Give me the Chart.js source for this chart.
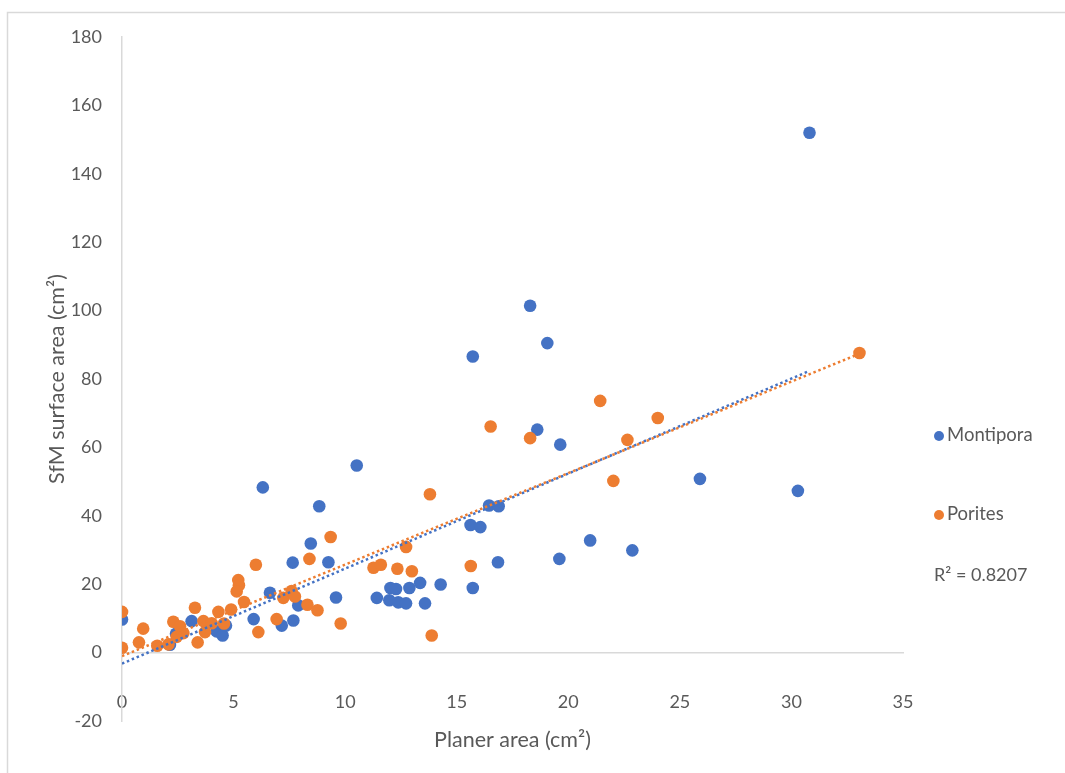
<!DOCTYPE html>
<html>
<head>
<meta charset="utf-8">
<script src="https://cdn.jsdelivr.net/npm/chart.js@4.4.0/dist/chart.umd.min.js"></script>
<style>
  html, body { margin: 0; padding: 0; background: #ffffff; }
  canvas { display: block; }
</style>
</head>
<body>
<canvas id="chart" width="1065" height="773"></canvas>
<script>
// Planar area (cm²) vs SfM surface area (cm²) for two coral genera
const seriesNames = ['Montipora', 'Porites'];

const montiporaX = [0, 2.15, 2.42, 3.12, 4.24, 4.51, 4.66, 5.9, 6.31, 6.63, 7.16, 7.68, 7.65, 7.9,
  8.46, 8.84, 9.25, 9.59, 10.52, 11.42, 11.98, 12.03, 12.28, 12.38, 12.73, 12.88, 13.36, 13.58,
  14.28, 15.62, 15.72, 15.72, 16.06, 16.45, 16.88, 16.85, 18.29, 18.61, 19.06, 19.64, 19.6,
  20.98, 22.87, 25.9, 30.29, 30.81];
const montiporaY = [9.7, 2.3, 5.5, 9.2, 6.2, 5.0, 7.9, 9.8, 48.3, 17.5, 7.9, 9.4, 26.3, 13.8,
  31.9, 42.8, 26.4, 16.1, 54.7, 16.0, 15.3, 18.9, 18.6, 14.7, 14.4, 18.9, 20.4, 14.4,
  19.9, 37.3, 86.6, 18.9, 36.7, 43.0, 42.8, 26.4, 101.4, 65.2, 90.5, 60.8, 27.4,
  32.8, 29.9, 50.8, 47.3, 152.0];

const poritesX = [0, 0, 0.76, 0.95, 1.58, 2.08, 2.3, 2.6, 2.75, 2.45, 3.27, 3.39, 3.65, 3.72,
  4.02, 4.32, 4.57, 4.89, 5.21, 5.24, 5.14, 5.47, 6.0, 6.11, 6.93, 7.23, 7.6, 7.75, 8.31, 8.4,
  8.76, 9.35, 9.8, 11.27, 11.6, 12.34, 12.73, 12.99, 13.8, 13.88, 15.63, 16.52, 18.29, 21.43,
  22.02, 22.65, 24.01, 33.05];
const poritesY = [11.9, 1.4, 3.0, 7.0, 2.0, 2.4, 9.0, 7.7, 5.7, 4.6, 13.1, 3.0, 9.2, 6.0,
  8.6, 11.9, 8.5, 12.6, 21.2, 19.7, 17.9, 14.8, 25.7, 6.0, 9.8, 16.0, 18.0, 16.4, 14.0, 27.4,
  12.4, 33.8, 8.5, 24.8, 25.7, 24.5, 30.9, 23.8, 46.3, 5.0, 25.3, 66.1, 62.7, 73.6,
  50.2, 62.2, 68.6, 87.6];

const xAxisRange = { min: 0, max: 35, step: 5 };
const yAxisRange = { min: -20, max: 180, step: 20 };
const rSquaredLabel = 'R² = 0.8207';

const BLUE = '#4472C4';
const ORANGE = '#ED7D31';
const TEXT = '#595959';
const LINE = '#d9d9d9';
const FONT = 'Lato, "Open Sans", sans-serif';

function toPoints(xs, ys) {
  return xs.map((x, i) => ({ x: x, y: ys[i] }));
}

// Ordinary least-squares line across the x extent of a series
function linearTrend(xs, ys) {
  const n = xs.length;
  const mx = xs.reduce((a, b) => a + b, 0) / n;
  const my = ys.reduce((a, b) => a + b, 0) / n;
  let sxy = 0, sxx = 0;
  for (let i = 0; i < n; i++) {
    sxy += (xs[i] - mx) * (ys[i] - my);
    sxx += (xs[i] - mx) * (xs[i] - mx);
  }
  const slope = sxy / sxx;
  const icpt = my - slope * mx;
  const x0 = Math.min(...xs), x1 = Math.max(...xs);
  return [{ x: x0, y: icpt + slope * x0 }, { x: x1, y: icpt + slope * x1 }];
}

// Outer frame of the chart object
const framePlugin = {
  id: 'frame',
  beforeDraw(chart) {
    const ctx = chart.ctx;
    ctx.save();
    ctx.fillStyle = '#ffffff';
    ctx.fillRect(0, 0, chart.width, chart.height);
    ctx.strokeStyle = LINE;
    ctx.lineWidth = 1.5;
    ctx.strokeRect(7.5, 12.5, chart.width + 20, chart.height + 20);
    ctx.restore();
  }
};

// Legend entries stacked at the right, plus the R² note
const sideLegendPlugin = {
  id: 'sideLegend',
  afterDraw(chart) {
    const ctx = chart.ctx;
    const rows = [435, 514];
    ctx.save();
    ctx.font = '18.5px ' + FONT;
    ctx.textBaseline = 'middle';
    ctx.textAlign = 'left';
    chart.data.datasets.forEach((ds) => {
      if (ds.legendRow === undefined) return;
      const y = rows[ds.legendRow];
      ctx.fillStyle = ds.backgroundColor;
      ctx.beginPath();
      ctx.arc(939, y + 1, 5, 0, Math.PI * 2);
      ctx.fill();
      ctx.fillStyle = TEXT;
      ctx.fillText(ds.label, 947, y);
    });
    ctx.font = '18px ' + FONT;
    ctx.fillText(rSquaredLabel, 934, 575);
    ctx.restore();
  }
};

new Chart(document.getElementById('chart'), {
  type: 'scatter',
  data: {
    datasets: [
      {
        label: 'Linear (' + seriesNames[1] + ')',
        data: linearTrend(poritesX, poritesY),
        showLine: true,
        borderColor: ORANGE,
        borderWidth: 2.5,
        borderDash: [2.5, 2.8],
        pointRadius: 0,
        order: 0
      },
      {
        label: 'Linear (' + seriesNames[0] + ')',
        data: linearTrend(montiporaX, montiporaY),
        showLine: true,
        borderColor: BLUE,
        borderWidth: 2.5,
        borderDash: [2.5, 2.8],
        pointRadius: 0,
        order: 1
      },
      {
        label: seriesNames[1],
        legendRow: 1,
        data: toPoints(poritesX, poritesY),
        backgroundColor: ORANGE,
        borderColor: ORANGE,
        borderWidth: 0,
        pointRadius: 6.3,
        order: 2
      },
      {
        label: seriesNames[0],
        legendRow: 0,
        data: toPoints(montiporaX, montiporaY),
        backgroundColor: BLUE,
        borderColor: BLUE,
        borderWidth: 0,
        pointRadius: 6.3,
        order: 3
      }
    ]
  },
  options: {
    responsive: false,
    animation: false,
    devicePixelRatio: 1,
    layout: { padding: { left: 0, right: 162, top: 37, bottom: 52 } },
    plugins: {
      legend: { display: false },
      tooltip: { enabled: false }
    },
    scales: {
      x: {
        type: 'linear',
        position: { y: 0 },
        min: xAxisRange.min,
        max: xAxisRange.max,
        ticks: { stepSize: xAxisRange.step, padding: 39, color: TEXT, font: { family: FONT, size: 18 } },
        grid: { display: false, drawTicks: false },
        border: { display: true, color: LINE, width: 1.5 },
        title: {
          display: true,
          text: 'Planer area (cm²)',
          color: TEXT,
          font: { family: FONT, size: 21.5 },
          padding: { top: -25.5, bottom: 0 }
        }
      },
      y: {
        type: 'linear',
        min: yAxisRange.min,
        max: yAxisRange.max,
        ticks: { stepSize: yAxisRange.step, padding: 20, color: TEXT, font: { family: FONT, size: 18 } },
        grid: { display: false, drawTicks: false },
        border: { display: true, color: LINE, width: 1.5 },
        title: {
          display: true,
          text: 'SfM surface area (cm²)',
          color: TEXT,
          font: { family: FONT, size: 21.5 },
          padding: { top: 44, bottom: 0 }
        },
        afterFit(scale) { scale.width = 122; }
      }
    }
  },
  plugins: [framePlugin, sideLegendPlugin]
});
</script>
</body>
</html>
